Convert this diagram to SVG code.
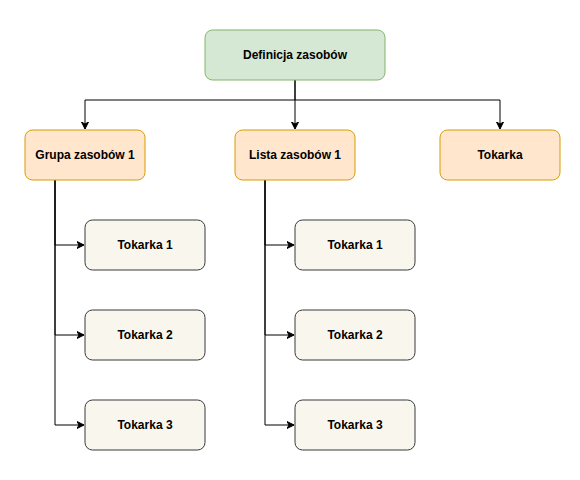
<svg xmlns="http://www.w3.org/2000/svg" width="580" height="480" viewBox="0 0 580 480">
<style>
text{font-family:"Liberation Sans",Arial,sans-serif;font-size:12px;font-weight:bold;fill:#000;text-anchor:middle;dominant-baseline:central}
.g{fill:#d5e8d4;stroke:#82b366}
.o{fill:#ffe6cc;stroke:#d79b00}
.t{fill:#f9f7ed;stroke:#36393d}
.e{fill:none;stroke:#000;stroke-width:1;marker-end:url(#a)}
</style>
<defs>
<marker id="a" markerWidth="8" markerHeight="8" refX="7" refY="4" orient="auto" markerUnits="userSpaceOnUse">
<path d="M0,0.5 L7,4 L0,7.5 L2,4 Z" fill="#000" stroke="#000" stroke-width="1"/>
</marker>
</defs>
<rect width="580" height="480" fill="#fff"/>
<g id="edges">
<path class="e" d="M295,80 V100 H85 V129"/>
<path class="e" d="M295,80 V129"/>
<path class="e" d="M295,100 H500 V129"/>
<path class="e" d="M55,180 V245 H84"/>
<path class="e" d="M55,180 V335 H84"/>
<path class="e" d="M55,180 V425 H84"/>
<path class="e" d="M265,180 V245 H294"/>
<path class="e" d="M265,180 V335 H294"/>
<path class="e" d="M265,180 V425 H294"/>
</g>
<g id="def"><rect class="g" x="205" y="30" width="180" height="50" rx="7.5"/><text x="295" y="55">Definicja zasobów</text></g>
<g id="grupa"><rect class="o" x="25" y="130" width="120" height="50" rx="7.5"/><text x="85" y="155">Grupa zasobów 1</text></g>
<g id="lista"><rect class="o" x="235" y="130" width="120" height="50" rx="7.5"/><text x="295" y="155">Lista zasobów 1</text></g>
<g id="tokarka"><rect class="o" x="440" y="130" width="120" height="50" rx="7.5"/><text x="500" y="155">Tokarka</text></g>
<g id="g1"><rect class="t" x="85" y="220" width="120" height="50" rx="7.5"/><text x="145" y="245">Tokarka 1</text></g>
<g id="g2"><rect class="t" x="85" y="310" width="120" height="50" rx="7.5"/><text x="145" y="335">Tokarka 2</text></g>
<g id="g3"><rect class="t" x="85" y="400" width="120" height="50" rx="7.5"/><text x="145" y="425">Tokarka 3</text></g>
<g id="l1"><rect class="t" x="295" y="220" width="120" height="50" rx="7.5"/><text x="355" y="245">Tokarka 1</text></g>
<g id="l2"><rect class="t" x="295" y="310" width="120" height="50" rx="7.5"/><text x="355" y="335">Tokarka 2</text></g>
<g id="l3"><rect class="t" x="295" y="400" width="120" height="50" rx="7.5"/><text x="355" y="425">Tokarka 3</text></g>
</svg>
